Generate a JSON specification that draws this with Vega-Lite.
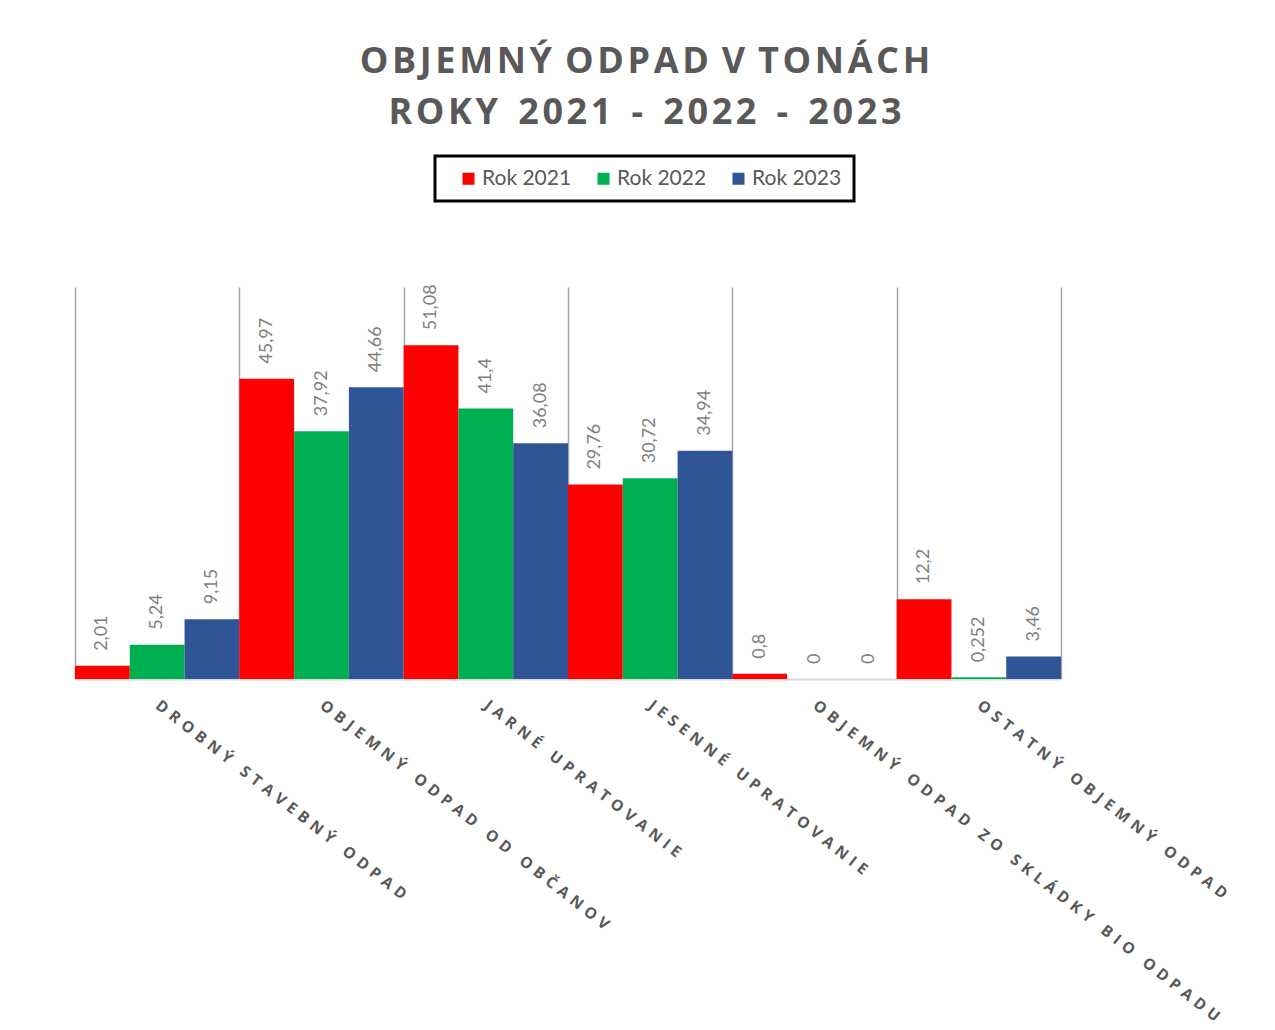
{
  "$schema": "https://vega.github.io/schema/vega-lite/v6.json",
  "width": 986,
  "height": 392,
  "autosize": {"type": "none"},
  "padding": {"left": 75, "top": 287, "right": 214, "bottom": 351},
  "background": "white",
  "config": {
    "view": {"stroke": null},
    "locale": {"number": {"decimal": ",", "thousands": " ", "grouping": [3], "currency": ["", ""]}}
  },
  "title": {
    "text": ["O\u200AB\u200AJ\u200AE\u200AM\u200AN\u200AÝ \u200AO\u200AD\u200AP\u200AA\u200AD \u200AV \u200AT\u200AO\u200AN\u200AÁ\u200AC\u200AH", "R\u200AO\u200AK\u200AY \u200A\u200A\u200A2\u200A0\u200A2\u200A1 \u200A\u200A\u200A- \u200A\u200A\u200A2\u200A0\u200A2\u200A2 \u200A\u200A\u200A- \u200A\u200A\u200A2\u200A0\u200A2\u200A3"],
    "font": "Open Sans",
    "fontSize": 36,
    "fontWeight": "bold",
    "color": "#595959",
    "lineHeight": 51,
    "anchor": "middle",
    "frame": "group",
    "dx": 77,
    "offset": 23
  },
  "data": {
    "values": [
      {"kategoria": "DROBNÝ STAVEBNÝ ODPAD", "rok": "Rok 2021", "hodnota": 2.01},
      {"kategoria": "DROBNÝ STAVEBNÝ ODPAD", "rok": "Rok 2022", "hodnota": 5.24},
      {"kategoria": "DROBNÝ STAVEBNÝ ODPAD", "rok": "Rok 2023", "hodnota": 9.15},
      {"kategoria": "OBJEMNÝ ODPAD OD OBČANOV", "rok": "Rok 2021", "hodnota": 45.97},
      {"kategoria": "OBJEMNÝ ODPAD OD OBČANOV", "rok": "Rok 2022", "hodnota": 37.92},
      {"kategoria": "OBJEMNÝ ODPAD OD OBČANOV", "rok": "Rok 2023", "hodnota": 44.66},
      {"kategoria": "JARNÉ UPRATOVANIE", "rok": "Rok 2021", "hodnota": 51.08},
      {"kategoria": "JARNÉ UPRATOVANIE", "rok": "Rok 2022", "hodnota": 41.4},
      {"kategoria": "JARNÉ UPRATOVANIE", "rok": "Rok 2023", "hodnota": 36.08},
      {"kategoria": "JESENNÉ UPRATOVANIE", "rok": "Rok 2021", "hodnota": 29.76},
      {"kategoria": "JESENNÉ UPRATOVANIE", "rok": "Rok 2022", "hodnota": 30.72},
      {"kategoria": "JESENNÉ UPRATOVANIE", "rok": "Rok 2023", "hodnota": 34.94},
      {"kategoria": "OBJEMNÝ ODPAD ZO SKLÁDKY BIO ODPADU", "rok": "Rok 2021", "hodnota": 0.8},
      {"kategoria": "OBJEMNÝ ODPAD ZO SKLÁDKY BIO ODPADU", "rok": "Rok 2022", "hodnota": 0},
      {"kategoria": "OBJEMNÝ ODPAD ZO SKLÁDKY BIO ODPADU", "rok": "Rok 2023", "hodnota": 0},
      {"kategoria": "OSTATNÝ OBJEMNÝ ODPAD", "rok": "Rok 2021", "hodnota": 12.2},
      {"kategoria": "OSTATNÝ OBJEMNÝ ODPAD", "rok": "Rok 2022", "hodnota": 0.252},
      {"kategoria": "OSTATNÝ OBJEMNÝ ODPAD", "rok": "Rok 2023", "hodnota": 3.46}
    ]
  },
  "encoding": {
    "x": {
      "field": "kategoria",
      "type": "nominal",
      "sort": null,
      "scale": {"paddingInner": 0, "paddingOuter": 0},
      "axis": {
        "title": null,
        "domainColor": "#d9d9d9",
        "domainWidth": 2,
        "ticks": false,
        "grid": true,
        "gridColor": "#a6a6a6",
        "gridWidth": 1.5,
        "tickBand": "extent",
        "labelAngle": 38,
        "labelAlign": "left",
        "labelBaseline": "middle",
        "labelPadding": 24,
        "labelFont": "Open Sans",
        "labelFontSize": 15.5,
        "labelFontWeight": "bold",
        "labelColor": "#595959",
        "labelLimit": 1000,
        "labelOverlap": false,
        "labelExpr": "join(split(datum.label, ''), '\u2004')"
      }
    },
    "xOffset": {
      "field": "rok",
      "type": "nominal",
      "sort": ["Rok 2021", "Rok 2022", "Rok 2023"],
      "scale": {"paddingInner": 0, "paddingOuter": 0}
    },
    "y": {
      "field": "hodnota",
      "type": "quantitative",
      "scale": {"domain": [0, 60], "nice": false},
      "axis": null
    }
  },
  "layer": [
    {
      "mark": {"type": "bar"},
      "encoding": {
        "color": {
          "field": "rok",
          "type": "nominal",
          "scale": {"domain": ["Rok 2021", "Rok 2022", "Rok 2023"], "range": ["#FF0000", "#00B050", "#2F5597"]},
          "legend": {
            "orient": "none",
            "legendX": 360,
            "legendY": -131,
            "direction": "horizontal",
            "columns": 3,
            "title": null,
            "symbolType": "square",
            "symbolSize": 144,
            "symbolStrokeWidth": 0,
            "labelFont": "Lato",
            "labelFontSize": 21,
            "labelColor": "#595959",
            "columnPadding": 10,
            "labelOffset": 3,
            "padding": 12,
            "symbolOffset": 11,
            "strokeColor": "black",
            "cornerRadius": 0,
            "encode": {"legend": {"update": {"strokeWidth": {"value": 3}}}}
          }
        }
      }
    },
    {
      "mark": {"type": "text", "angle": 270, "align": "left", "baseline": "middle", "dx": 15, "font": "Lato", "fontSize": 18, "color": "#7f7f7f"},
      "encoding": {
        "text": {"field": "hodnota", "type": "quantitative", "format": "~g"}
      }
    }
  ]
}
